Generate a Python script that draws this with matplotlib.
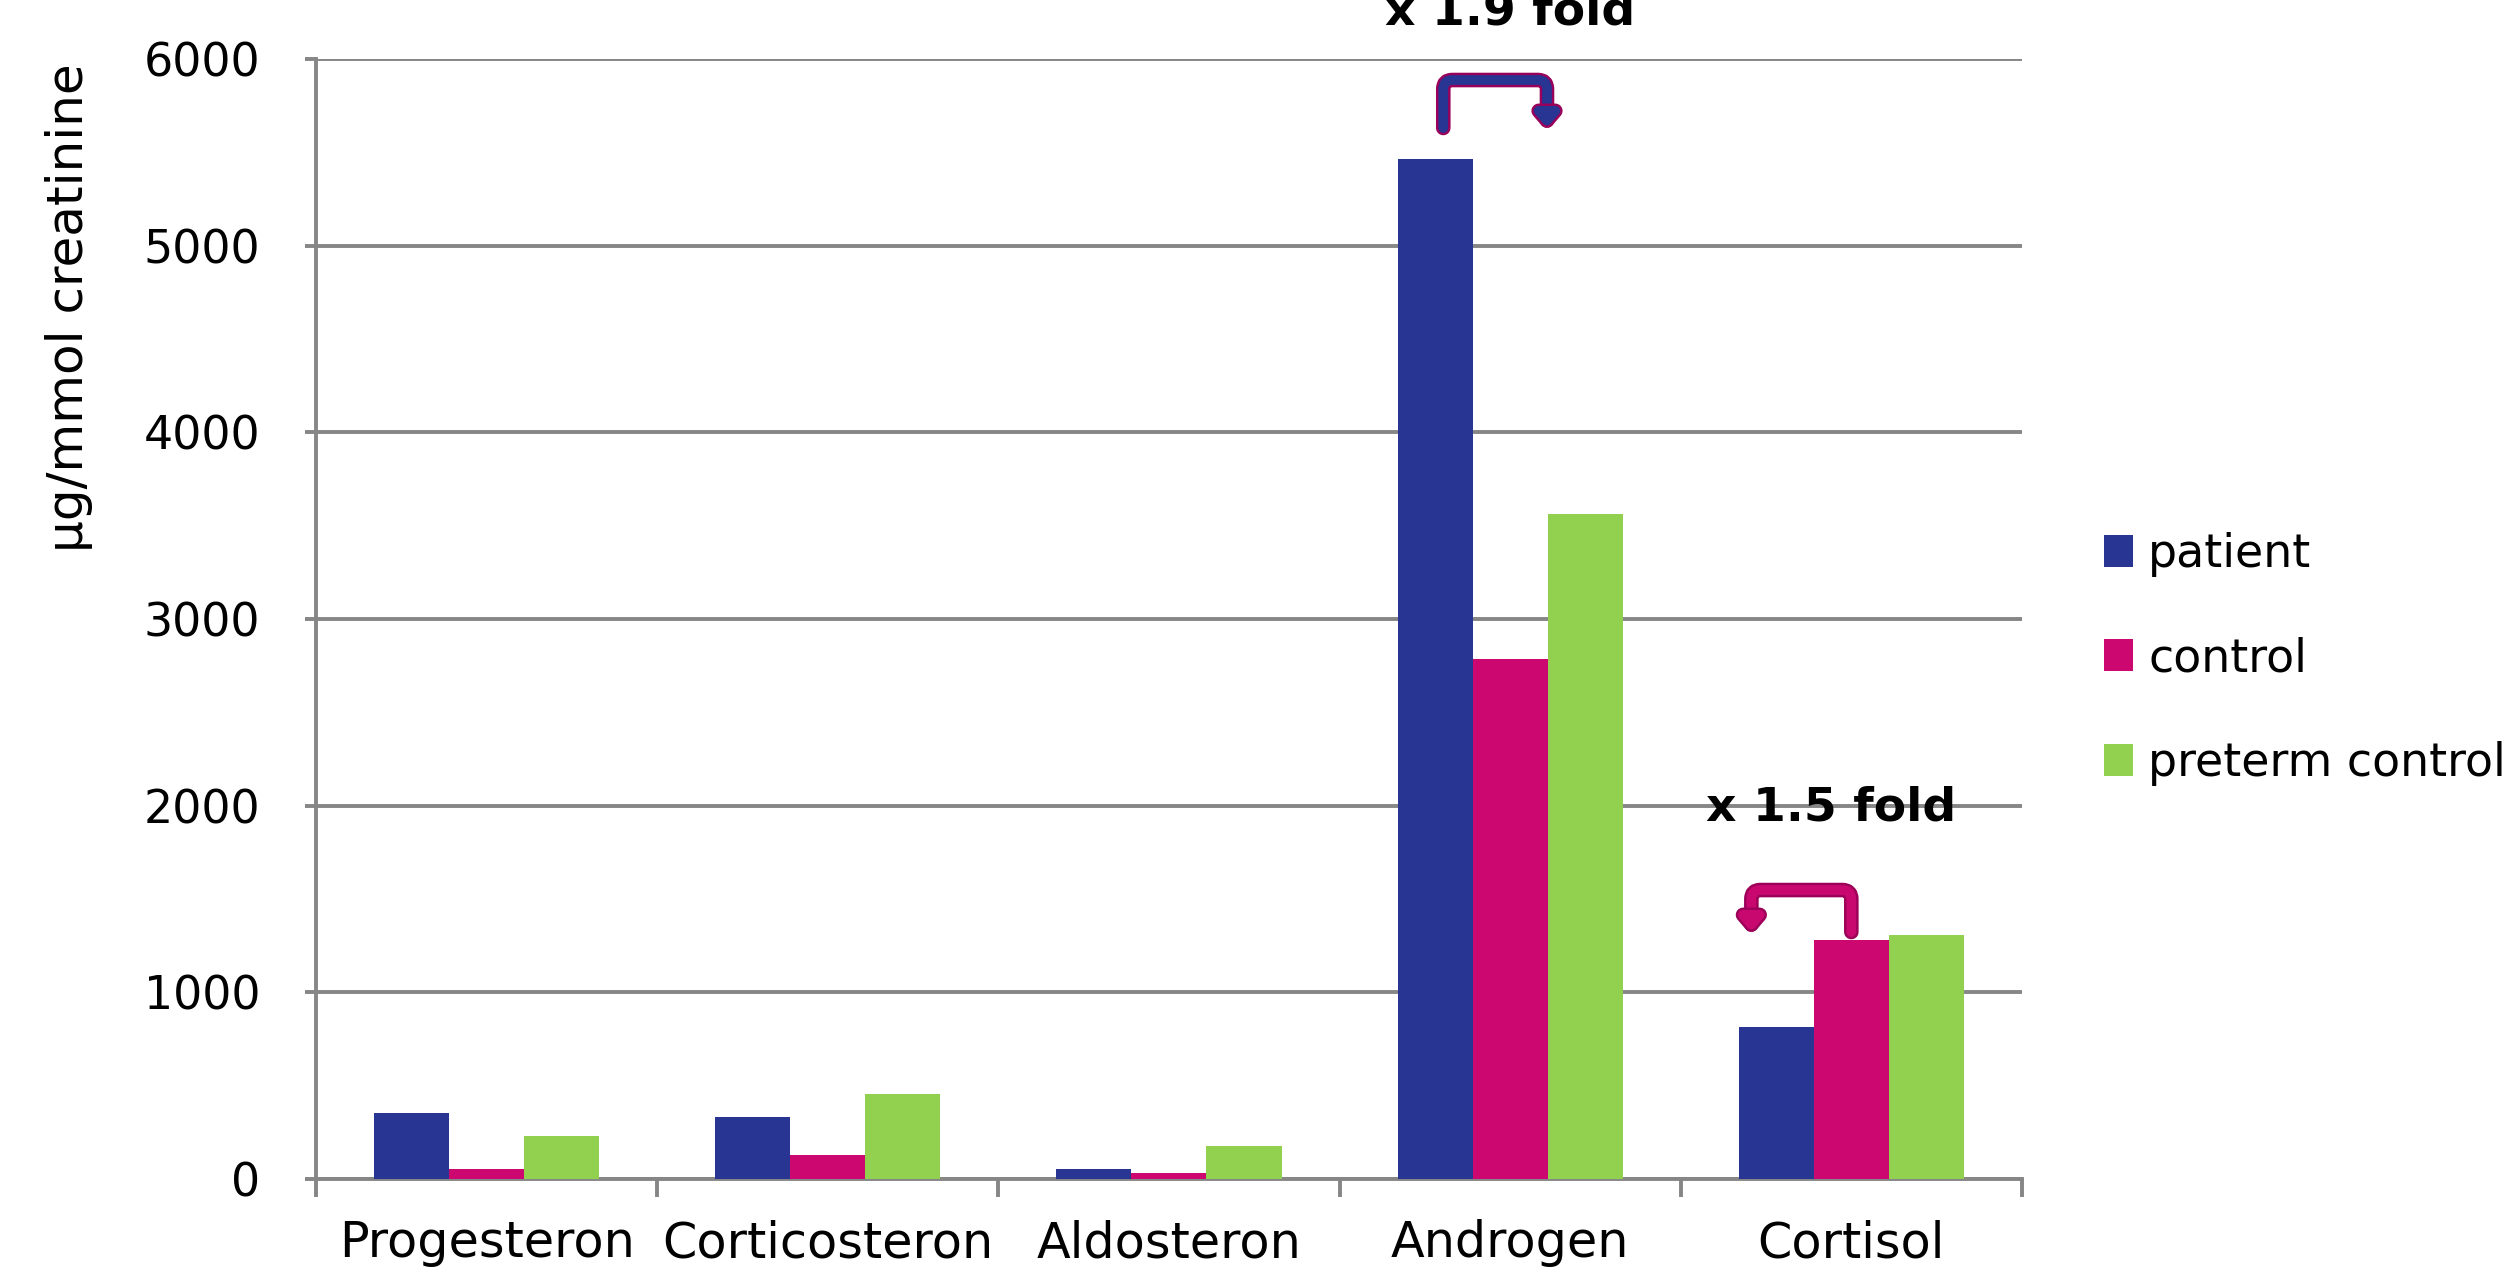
import matplotlib.pyplot as plt
import numpy as np
from matplotlib.patches import FancyArrowPatch
import matplotlib.patheffects as pe

categories = ['Progesteron', 'Corticosteron', 'Aldosteron', 'Androgen', 'Cortisol']
series = ['patient', 'control', 'preterm control']
patient = [356, 330, 56, 5464, 812]
control = [56, 131, 34, 2785, 1279]
preterm = [233, 455, 179, 3560, 1305]
colors = ['#283593', '#CC0870', '#92D050']
y_ticks = [0, 1000, 2000, 3000, 4000, 5000, 6000]

fig = plt.figure(figsize=(25.12, 12.87), dpi=100)
ax = fig.add_axes([0.1258, 0.0839, 0.6791, 0.8703])

x = np.arange(len(categories)) + 0.5
w = 0.22
for i, (vals, name) in enumerate(zip([patient, control, preterm], series)):
    ax.bar(x + (i - 1) * w, vals, width=w, color=colors[i], label=name, zorder=3)

ax.set_xlim(0, 5)
ax.set_ylim(0, 6000)
ax.set_yticks(y_ticks)
ax.set_yticklabels([str(t) for t in y_ticks], fontsize=33)
ax.yaxis.grid(True, color='#868686', linewidth=2.8, zorder=0)
ax.set_axisbelow(True)

ax.set_xticks(x)
ax.set_xticklabels(categories, fontsize=35.5)
ax.set_xticks(np.arange(0, 6), minor=True)
ax.tick_params(axis='x', which='major', length=0, pad=29)
ax.tick_params(axis='x', which='minor', length=13, width=2.8, color='#868686')
ax.tick_params(axis='y', length=8, width=2.8, color='#868686', pad=32)

for s in ['top', 'right']:
    ax.spines[s].set_visible(False)
for s in ['left', 'bottom']:
    ax.spines[s].set_color('#868686')
    ax.spines[s].set_linewidth(2.8)

fig.text(69 / 2512, 1 - 308 / 1287, 'µg/mmol creatinine', rotation=90,
         ha='center', va='center', fontsize=36)

ax.legend(loc='center left', bbox_to_anchor=(0.8376, 0.488),
          bbox_transform=fig.transFigure, frameon=False, fontsize=33,
          handlelength=0.64, handleheight=0.7, handletextpad=0.32,
          labelspacing=1.3, borderpad=0, borderaxespad=0)

# fold-change brackets
def bracket(xa, xb, y, arm, face, edge):
    arr = FancyArrowPatch((xa, y), (xb, y),
                          connectionstyle=f'arc,angleA=90,angleB=90,armA={arm},armB={arm},rad=9',
                          arrowstyle='-|>,head_width=0.3,head_length=0.35',
                          mutation_scale=20, linewidth=7, color=face,
                          shrinkA=0, shrinkB=0, zorder=5, clip_on=False)
    arr.set_path_effects([pe.Stroke(linewidth=10.5, foreground=edge), pe.Normal()])
    ax.add_patch(arr)

bracket(3.5 - 0.196, 3.5 + 0.108, 5630, 48, '#283593', '#99005a')
bracket(4.5, 4.5 - 0.293, 1323, 42, '#C8086E', '#9c0058')

ax.text(3.5, 6187, 'x 1.9 fold', ha='center', va='baseline', fontsize=34,
        fontweight='bold', clip_on=False)
ax.text(4.44, 1923, 'x 1.5 fold', ha='center', va='baseline', fontsize=34,
        fontweight='bold')

fig.savefig('out.png', dpi=100)
